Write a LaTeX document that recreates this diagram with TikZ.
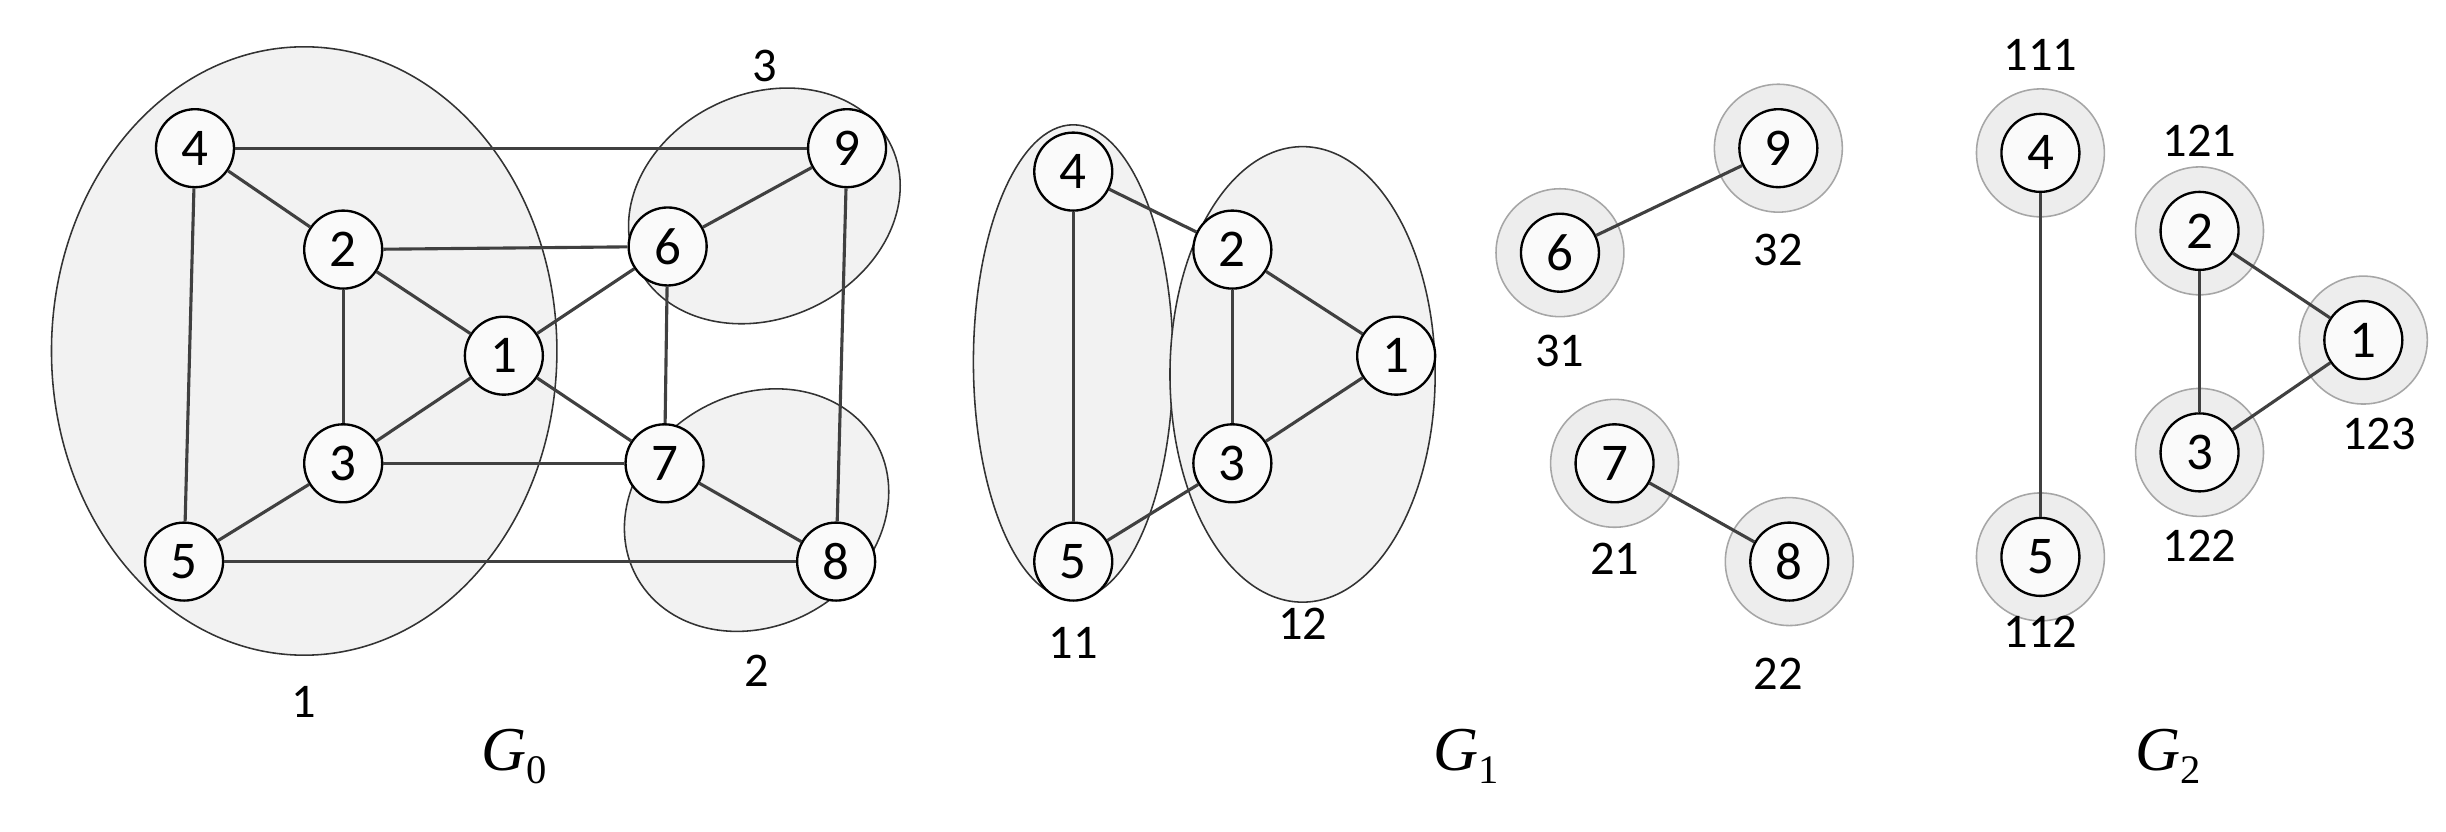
\documentclass[tikz,border=0pt]{standalone}
\usepackage{fontspec}
\setmainfont{Carlito}
\newfontfamily\gfont{Liberation Serif}
\begin{document}
\begin{tikzpicture}[x=1pt,y=-1pt,
  v/.style={circle,draw=black,line width=1.5pt,fill=gray!4,minimum size=50pt,inner sep=0pt,font=\fontsize{34}{40}\selectfont},
  ring/.style={circle,draw=gray!70,line width=1pt,fill=gray!14,minimum size=82pt},
  grp/.style={draw=black!80,line width=1pt,fill=gray!10},
  e/.style={draw=black!75,line width=2pt},
  lab/.style={font=\fontsize{31}{36}\selectfont},
  gl/.style={font=\gfont\itshape\fontsize{40}{48}\selectfont}]
\useasboundingbox (0,0) rectangle (1568,533);
% G0 groups
\path[grp] (195,225) ellipse [x radius=162,y radius=195];
\path[grp,rotate around={25:(490,132)}] (490,132) ellipse [x radius=90,y radius=72];
\path[grp,rotate around={30:(485,327)}] (485,327) ellipse [x radius=88,y radius=74];
\node[v] (a4) at (125,95) {4};
\node[v] (a2) at (220,160) {2};
\node[v] (a1) at (323,228) {1};
\node[v] (a3) at (220,297) {3};
\node[v] (a5) at (118,360) {5};
\node[v] (a6) at (428,158) {6};
\node[v] (a7) at (426,297) {7};
\node[v] (a9) at (543,95) {9};
\node[v] (a8) at (536,360) {8};
\foreach \p/\q in {a4/a9,a4/a2,a4/a5,a2/a6,a2/a1,a2/a3,a1/a6,a1/a3,a1/a7,a3/a7,a3/a5,a5/a8,a6/a9,a6/a7,a9/a8,a7/a8}
  \draw[e] (\p) -- (\q);
\node[lab] (l1) at (195,450) {1};
\node[lab] (l3) at (490,42) {3};
\node[lab] (l2) at (485,430) {2};
\node[gl] (g0) at (330,485) {G\textsubscript{\upshape\fontsize{26}{30}\selectfont 0}};
% G1
\path[grp] (688,232) ellipse [x radius=64,y radius=152];
\path[grp] (835,240) ellipse [x radius=85,y radius=146];
\node[v] (b4) at (688,110) {4};
\node[v] (b5) at (688,360) {5};
\node[v] (b2) at (790,160) {2};
\node[v] (b1) at (895,228) {1};
\node[v] (b3) at (790,297) {3};
\foreach \p/\q in {b4/b5,b4/b2,b2/b1,b2/b3,b3/b1,b3/b5}
  \draw[e] (\p) -- (\q);
\node[lab] (l11) at (688,412) {11};
\node[lab] (l12) at (835,400) {12};
\foreach \n/\x/\y in {6/1000/162,9/1140/95,7/1035/297,8/1147/360}{
  \node[ring] (r\n) at (\x,\y) {};
  \node[v] (c\n) at (\x,\y) {\n};}
\draw[e] (c6) -- (c9);
\draw[e] (c7) -- (c8);
\node[lab] (l31) at (1000,225) {31};
\node[lab] (l32) at (1140,160) {32};
\node[lab] (l21) at (1035,358) {21};
\node[lab] (l22) at (1140,432) {22};
\node[gl] (g1) at (940,485) {G\textsubscript{\upshape\fontsize{26}{30}\selectfont 1}};
% G2
\foreach \n/\x/\y in {4/1308/98,5/1308/357,2/1410/148,1/1515/218,3/1410/290}{
  \node[ring] (s\n) at (\x,\y) {};
  \node[v] (d\n) at (\x,\y) {\n};}
\foreach \p/\q in {d4/d5,d2/d1,d2/d3,d3/d1}
  \draw[e] (\p) -- (\q);
\node[lab] (l111) at (1308,35) {111};
\node[lab] (l112) at (1308,405) {112};
\node[lab] (l121) at (1410,90) {121};
\node[lab] (l122) at (1410,350) {122};
\node[lab] (l123) at (1525,278) {123};
\node[gl] (g2) at (1390,485) {G\textsubscript{\upshape\fontsize{26}{30}\selectfont 2}};
\end{tikzpicture}
\end{document}
